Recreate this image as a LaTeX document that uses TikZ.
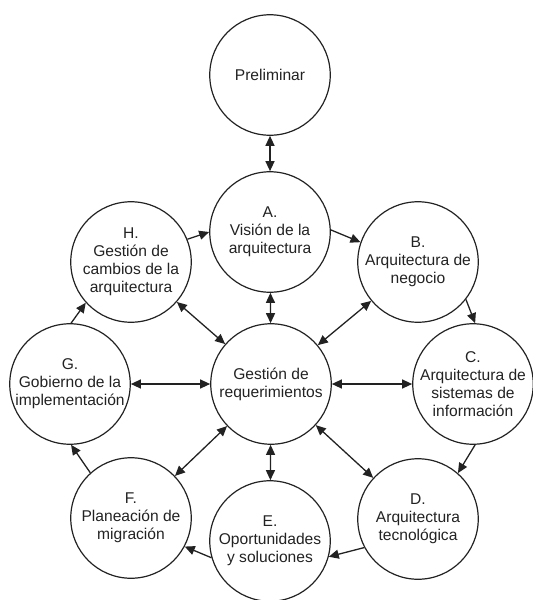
\documentclass[tikz,border=0pt]{standalone}
\usepackage{fontspec}
\setmainfont{Liberation Sans}
\usetikzlibrary{arrows.meta}
\definecolor{lc}{HTML}{222222}
\tikzset{
  cir/.style={circle,draw=lc,line width=1.2pt,minimum size=120.5pt,inner sep=0pt},
  txt/.style={align=center,text=lc,font=\fontsize{15.6pt}{18pt}\selectfont,inner sep=0pt},
  tip/.tip={Triangle[length=10pt,width=9pt]},
  one/.style={draw=lc,line width=1.3pt,-tip},
  two/.style={draw=lc,line width=1.3pt,tip-tip},
}
\begin{document}
\begin{tikzpicture}[x=1pt,y=-1pt]
\useasboundingbox (0,0) rectangle (533,600);
\node[cir] (P) at (270,75) {};
\node[cir] (A) at (270,232) {};
\node[cir] (H) at (131,262) {};
\node[cir] (B) at (418,262) {};
\node[cir] (G) at (70,384) {};
\node[cir] (M) at (271,384) {};
\node[cir] (C) at (473,384) {};
\node[cir] (F) at (131,518) {};
\node[cir] (D) at (418,519) {};
\node[cir] (E) at (270,541) {};
\node[txt] at (P) {Preliminar};
\node[txt] at (A) {A.\\Visión de la\\arquitectura};
\node[txt] at (H) {H.\\Gestión de\\cambios de la\\arquitectura};
\node[txt] at (B) {B.\\Arquitectura de\\negocio};
\node[txt] at (G) {G.\\Gobierno de la\\implementación};
\node[txt] at (M) {Gestión de\\requerimientos};
\node[txt] at (C) {C.\\Arquitectura de\\sistemas de\\información};
\node[txt] at (F) {F.\\Planeación de\\migración};
\node[txt] at (D) {D.\\Arquitectura\\tecnológica};
\node[txt] at (E) {E.\\Oportunidades\\y soluciones};
% cycle
\draw[two] (P) -- (A);
\draw[one] (A.2) -- (B.161);
\draw[one] (B.-38) -- (C.88);
\draw[one] (C.-88) -- (D.49);
\draw[one] (D.208) -- (E.-15);
\draw[one] (E.196) -- (F.-28);
\draw[one] (F.132) -- (G.-89);
\draw[one] (G.89) -- (H.222);
\draw[one] (H.22) -- (A.180);
% hub
\draw[two] (A) -- (M);
\draw[two] (B) -- (M);
\draw[two] (M) -- (C);
\draw[two] (M) -- (D);
\draw[two] (M) -- (E);
\draw[two] (M) -- (F);
\draw[two] (G) -- (M);
\draw[two] (H) -- (M);
\end{tikzpicture}
\end{document}
